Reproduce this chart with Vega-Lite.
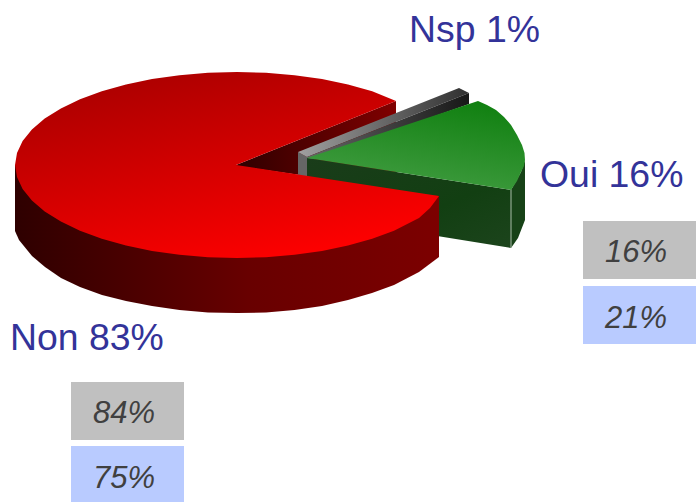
{
"$schema":"https://vega.github.io/schema/vega-lite/v6.json",
"width":696,"height":502,"padding":0,"autosize":{"type":"fit","contains":"padding"},
"background":"white",
"config":{"view":{"stroke":null}},
"data":{"name":"shapes","values":[
{"part":"wedgeWall","i":0,"x":236,"y":165},{"part":"wedgeWall","i":1,"x":396,"y":101},{"part":"wedgeWall","i":2,"x":396,"y":175},{"part":"wedgeWall","i":3,"x":300,"y":175},{"part":"wedgeWall","i":4,"x":236,"y":166},
{"part":"grayLeft","i":0,"x":298,"y":152},{"part":"grayLeft","i":1,"x":307,"y":157},{"part":"grayLeft","i":2,"x":307,"y":178},{"part":"grayLeft","i":3,"x":298,"y":176},
{"part":"grayTop","i":0,"x":298,"y":152},{"part":"grayTop","i":1,"x":459,"y":88},{"part":"grayTop","i":2,"x":469,"y":93},{"part":"grayTop","i":3,"x":307,"y":157},
{"part":"grayInner","i":0,"x":307,"y":157},{"part":"grayInner","i":1,"x":469,"y":93},{"part":"grayInner","i":2,"x":469,"y":104},{"part":"grayInner","i":3,"x":307,"y":162},
{"part":"greenRim","i":0,"x":511,"y":190},{"part":"greenRim","i":1,"x":521,"y":172},{"part":"greenRim","i":2,"x":525,"y":160},{"part":"greenRim","i":3,"x":525,"y":220},{"part":"greenRim","i":4,"x":518,"y":238},{"part":"greenRim","i":5,"x":511,"y":248},
{"part":"greenFront","i":0,"x":307,"y":158},{"part":"greenFront","i":1,"x":511,"y":190},{"part":"greenFront","i":2,"x":511,"y":248},{"part":"greenFront","i":3,"x":307,"y":215},
{"part":"greenTop","i":0,"x":307,"y":158},{"part":"greenTop","i":1,"x":478,"y":101},{"part":"greenTop","i":2,"x":487,"y":105},{"part":"greenTop","i":3,"x":496,"y":110},{"part":"greenTop","i":4,"x":504,"y":117},{"part":"greenTop","i":5,"x":511,"y":125},{"part":"greenTop","i":6,"x":517,"y":135},{"part":"greenTop","i":7,"x":522,"y":145},{"part":"greenTop","i":8,"x":524.5,"y":153},{"part":"greenTop","i":9,"x":525,"y":160},{"part":"greenTop","i":10,"x":524,"y":166},{"part":"greenTop","i":11,"x":521,"y":172},{"part":"greenTop","i":12,"x":517,"y":181},{"part":"greenTop","i":13,"x":511,"y":190},
{"part":"greenEdge","i":0,"x":511,"y":190},{"part":"greenEdge","i":1,"x":511,"y":248},
{"part":"redSide","i":0,"x":15,"y":165},{"part":"redSide","i":1,"x":15,"y":231},{"part":"redSide","i":2,"x":19,"y":240},{"part":"redSide","i":3,"x":32,"y":256},{"part":"redSide","i":4,"x":45,"y":267},{"part":"redSide","i":5,"x":61,"y":278},{"part":"redSide","i":6,"x":80,"y":287},{"part":"redSide","i":7,"x":102,"y":295},{"part":"redSide","i":8,"x":126,"y":301},{"part":"redSide","i":9,"x":152,"y":306},{"part":"redSide","i":10,"x":179.5,"y":310},{"part":"redSide","i":11,"x":208,"y":312.5},{"part":"redSide","i":12,"x":237,"y":313},{"part":"redSide","i":13,"x":266,"y":312.5},{"part":"redSide","i":14,"x":294.5,"y":310},{"part":"redSide","i":15,"x":322,"y":306},{"part":"redSide","i":16,"x":348,"y":300},{"part":"redSide","i":17,"x":372,"y":293},{"part":"redSide","i":18,"x":394,"y":285},{"part":"redSide","i":19,"x":419,"y":272},{"part":"redSide","i":20,"x":439,"y":257},{"part":"redSide","i":21,"x":439,"y":196},
{"part":"redTop","i":0,"x":396,"y":101},{"part":"redTop","i":1,"x":372.2,"y":91.2},{"part":"redTop","i":2,"x":348,"y":84.5},{"part":"redTop","i":3,"x":322,"y":79.1},{"part":"redTop","i":4,"x":294.5,"y":75.2},{"part":"redTop","i":5,"x":266,"y":72.8},{"part":"redTop","i":6,"x":237,"y":72},{"part":"redTop","i":7,"x":208,"y":72.8},{"part":"redTop","i":8,"x":179.5,"y":75.2},{"part":"redTop","i":9,"x":152,"y":79.1},{"part":"redTop","i":10,"x":126,"y":84.5},{"part":"redTop","i":11,"x":101.8,"y":91.2},{"part":"redTop","i":12,"x":80,"y":99.2},{"part":"redTop","i":13,"x":60.9,"y":108.4},{"part":"redTop","i":14,"x":44.7,"y":118.5},{"part":"redTop","i":15,"x":31.9,"y":129.4},{"part":"redTop","i":16,"x":22.6,"y":141},{"part":"redTop","i":17,"x":17,"y":152.9},{"part":"redTop","i":18,"x":15,"y":165},{"part":"redTop","i":19,"x":17,"y":177.1},{"part":"redTop","i":20,"x":22.6,"y":189},{"part":"redTop","i":21,"x":31.9,"y":200.6},{"part":"redTop","i":22,"x":44.7,"y":211.5},{"part":"redTop","i":23,"x":60.9,"y":221.6},{"part":"redTop","i":24,"x":80,"y":230.8},{"part":"redTop","i":25,"x":101.8,"y":238.8},{"part":"redTop","i":26,"x":126,"y":245.5},{"part":"redTop","i":27,"x":152,"y":250.9},{"part":"redTop","i":28,"x":179.5,"y":254.8},{"part":"redTop","i":29,"x":208,"y":257.2},{"part":"redTop","i":30,"x":237,"y":258},{"part":"redTop","i":31,"x":266,"y":257.2},{"part":"redTop","i":32,"x":294.5,"y":254.8},{"part":"redTop","i":33,"x":322,"y":250.9},{"part":"redTop","i":34,"x":348,"y":245.5},{"part":"redTop","i":35,"x":372.2,"y":238.8},{"part":"redTop","i":36,"x":394,"y":230.8},{"part":"redTop","i":37,"x":419,"y":218},{"part":"redTop","i":38,"x":430,"y":208},{"part":"redTop","i":39,"x":439,"y":196},{"part":"redTop","i":40,"x":236,"y":165}
]},
"encoding":{
"x":{"field":"x","type":"quantitative","scale":{"domain":[0,696]},"axis":null},
"y":{"field":"y","type":"quantitative","scale":{"domain":[502,0]},"axis":null},
"order":{"field":"i","type":"quantitative"}
},
"layer":[
{"transform":[{"filter":"datum.part==='wedgeWall'"}],"mark":{"type":"line","strokeWidth":0,"fill":{"gradient":"linear","x1":0,"y1":0,"x2":1,"y2":0,"stops":[{"offset":0,"color":"#2e0000"},{"offset":1,"color":"#800000"}]}}},
{"transform":[{"filter":"datum.part==='grayLeft'"}],"mark":{"type":"line","strokeWidth":0,"fill":"#666666"}},
{"transform":[{"filter":"datum.part==='grayTop'"}],"mark":{"type":"line","strokeWidth":0,"fill":{"gradient":"linear","x1":0,"y1":0,"x2":1,"y2":0,"stops":[{"offset":0,"color":"#a0a0a0"},{"offset":1,"color":"#303030"}]}}},
{"transform":[{"filter":"datum.part==='grayInner'"}],"mark":{"type":"line","strokeWidth":0,"fill":{"gradient":"linear","x1":0,"y1":0,"x2":1,"y2":0,"stops":[{"offset":0,"color":"#666666"},{"offset":1,"color":"#181818"}]}}},
{"transform":[{"filter":"datum.part==='greenRim'"}],"mark":{"type":"line","strokeWidth":0,"fill":"#174217"}},
{"transform":[{"filter":"datum.part==='greenFront'"}],"mark":{"type":"line","strokeWidth":0,"fill":{"gradient":"linear","x1":0,"y1":0,"x2":1,"y2":1,"stops":[{"offset":0,"color":"#1a3c1a"},{"offset":0.6,"color":"#123f12"},{"offset":1,"color":"#1c441c"}]}}},
{"transform":[{"filter":"datum.part==='greenTop'"}],"mark":{"type":"line","strokeWidth":0,"fill":{"gradient":"linear","x1":0.85,"y1":0,"x2":0.45,"y2":1,"stops":[{"offset":0,"color":"#0f7f0f"},{"offset":1,"color":"#409c40"}]}}},
{"transform":[{"filter":"datum.part==='greenEdge'"}],"mark":{"type":"line","strokeWidth":1,"stroke":"#a9bda9"}},
{"transform":[{"filter":"datum.part==='redSide'"}],"mark":{"type":"line","strokeWidth":0,"fill":{"gradient":"linear","x1":0,"y1":0,"x2":1,"y2":0,"stops":[{"offset":0,"color":"#2e0000"},{"offset":0.55,"color":"#680000"},{"offset":1,"color":"#7c0000"}]}}},
{"transform":[{"filter":"datum.part==='redTop'"}],"mark":{"type":"line","strokeWidth":0,"fill":{"gradient":"linear","x1":0.2,"y1":0,"x2":0.7,"y2":1,"stops":[{"offset":0,"color":"#a80000"},{"offset":1,"color":"#ff0000"}]}}},
{"data":{"values":[
{"a":71,"b":184,"t":382,"u":440,"c":"#c0c0c0"},{"a":71,"b":184,"t":446,"u":502,"c":"#b9cbff"},
{"a":583,"b":696,"t":221,"u":279,"c":"#c0c0c0"},{"a":583,"b":696,"t":286,"u":344,"c":"#b9cbff"}]},
"mark":{"type":"rect"},
"encoding":{"x":{"field":"a","type":"quantitative"},"x2":{"field":"b"},"y":{"field":"t","type":"quantitative"},"y2":{"field":"u"},"color":{"field":"c","type":"nominal","scale":null},"order":{"value":null}}},
{"data":{"values":[
{"x":10,"y":350,"label":"Non 83%"},{"x":409,"y":42,"label":"Nsp 1%"},{"x":540,"y":187,"label":"Oui 16%"}]},
"mark":{"type":"text","font":"Liberation Sans","fontSize":37.4,"align":"left","baseline":"alphabetic","color":"#333399"},
"encoding":{"text":{"field":"label"},"order":{"value":null}}},
{"data":{"values":[
{"x":124,"y":423,"label":"84%"},{"x":124,"y":488,"label":"75%"},{"x":636,"y":262,"label":"16%"},{"x":636,"y":328,"label":"21%"}]},
"mark":{"type":"text","font":"Liberation Sans","fontSize":31,"fontStyle":"italic","align":"center","baseline":"alphabetic","color":"#404040"},
"encoding":{"text":{"field":"label"},"order":{"value":null}}}
]
}
